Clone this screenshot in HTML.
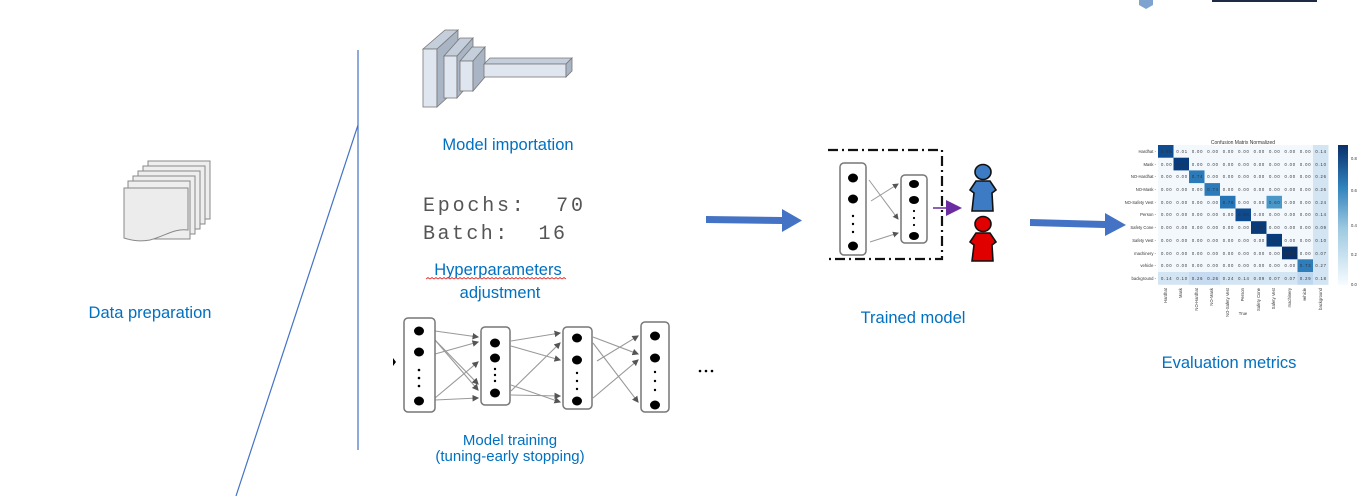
<!DOCTYPE html>
<html><head><meta charset="utf-8"><style>
html,body{margin:0;padding:0;background:#fff;}
svg{display:block;}
.t{font-family:"Liberation Sans",sans-serif;font-size:16.5px;fill:#0070C0;}
.m{font-family:"Liberation Mono",monospace;font-size:20px;fill:#555;}
.c{font-family:"Liberation Sans",sans-serif;font-size:4.2px;fill:#333;}
</style></head><body>
<svg width="1369" height="496" viewBox="0 0 1369 496" xmlns="http://www.w3.org/2000/svg">
<!-- top-right bits -->
<polygon points="1139,0 1153,0 1153,5 1146,9 1139,5" fill="#7ea3cf"/>
<rect x="1212" y="0" width="105" height="2" fill="#1f2a44"/>

<!-- lines -->
<line x1="358" y1="50" x2="358" y2="450" stroke="#4472C4" stroke-width="1.2"/>
<line x1="358" y1="125" x2="236" y2="496" stroke="#4472C4" stroke-width="1.2"/>

<!-- data prep icon -->
<g stroke="#888" stroke-width="1" fill="#eee">
<rect x="148" y="161" width="62" height="58"/>
<rect x="143" y="166" width="62" height="58"/>
<rect x="138" y="171" width="62" height="58"/>
<rect x="133" y="176" width="62" height="58"/>
<rect x="128" y="181" width="62" height="58"/>
<path d="M124,188 L188,188 L188,230 C175,228 165,236 150,240 C140,242 130,240 124,238 Z" fill="#ececec"/>
</g>
<text class="t" x="150" y="318" text-anchor="middle">Data preparation</text>

<!-- model importation icon -->
<g stroke="#777" stroke-width="0.8">
<polygon points="423,49 445,30 458,30 437,49" fill="#c5cedb"/>
<rect x="423" y="49" width="14" height="58" fill="#dfe6f0"/>
<polygon points="437,49 458,30 458,88 437,107" fill="#a9b4c4"/>
<polygon points="444,56 460,38 473,38 457,56" fill="#c5cedb"/>
<rect x="444" y="56" width="13" height="42" fill="#dfe6f0"/>
<polygon points="457,56 473,38 473,80 457,98" fill="#a9b4c4"/>
<polygon points="460,61 472,47 485,47 473,61" fill="#c5cedb"/>
<rect x="460" y="61" width="13" height="30" fill="#dfe6f0"/>
<polygon points="473,61 485,47 485,77 473,91" fill="#a9b4c4"/>
<polygon points="484,64 490,58 572,58 566,64" fill="#c5cedb"/>
<rect x="484" y="64" width="82" height="13" fill="#dfe6f0"/>
<polygon points="566,64 572,58 572,71 566,77" fill="#a9b4c4"/>
</g>
<text class="t" x="508" y="150" text-anchor="middle">Model importation</text>

<!-- hyperparameters -->
<text class="m" x="423" y="211" textLength="160" lengthAdjust="spacing" xml:space="preserve">Epochs:  70</text>
<text class="m" x="423" y="239" textLength="142" lengthAdjust="spacing" xml:space="preserve">Batch:  16</text>
<text class="t" x="498" y="275" text-anchor="middle">Hyperparameters</text>
<path d="M426,279 l2,-1.5 l2,1.5 l2,-1.5 l2,1.5 l2,-1.5 l2,1.5 l2,-1.5 l2,1.5 l2,-1.5 l2,1.5 l2,-1.5 l2,1.5 l2,-1.5 l2,1.5 l2,-1.5 l2,1.5 l2,-1.5 l2,1.5 l2,-1.5 l2,1.5 l2,-1.5 l2,1.5 l2,-1.5 l2,1.5 l2,-1.5 l2,1.5 l2,-1.5 l2,1.5 l2,-1.5 l2,1.5 l2,-1.5 l2,1.5 l2,-1.5 l2,1.5 l2,-1.5 l2,1.5 l2,-1.5 l2,1.5 l2,-1.5 l2,1.5 l2,-1.5 l2,1.5 l2,-1.5 l2,1.5 l2,-1.5 l2,1.5 l2,-1.5 l2,1.5 l2,-1.5 l2,1.5 l2,-1.5 l2,1.5 l2,-1.5 l2,1.5 l2,-1.5 l2,1.5 l2,-1.5 l2,1.5 l2,-1.5 l2,1.5 l2,-1.5 l2,1.5 l2,-1.5 l2,1.5 l2,-1.5 l2,1.5 l2,-1.5 l2,1.5 l2,-1.5 l2,1.5" fill="none" stroke="#e03030" stroke-width="0.8"/>
<text class="t" x="500" y="298" text-anchor="middle">adjustment</text>

<!-- training network -->
<defs><marker id="ah" markerWidth="6" markerHeight="6" refX="5" refY="3" orient="auto"><path d="M0,0 L6,3 L0,6 Z" fill="#555"/></marker>
<marker id="pa" markerWidth="5" markerHeight="5" refX="4" refY="2.5" orient="auto"><path d="M0,0 L5,2.5 L0,5 Z" fill="#6a2ca0"/></marker></defs>
<g stroke="#999" stroke-width="1.1" marker-end="url(#ah)">
<line x1="435" y1="331" x2="478" y2="337"/><line x1="435" y1="340" x2="478" y2="390"/>
<line x1="435" y1="354" x2="478" y2="342"/><line x1="435" y1="398" x2="478" y2="362"/>
<line x1="435" y1="400" x2="478" y2="398"/><line x1="435" y1="340" x2="478" y2="384"/>
<line x1="511" y1="341" x2="560" y2="333"/><line x1="511" y1="346" x2="560" y2="360"/>
<line x1="511" y1="385" x2="560" y2="402"/><line x1="511" y1="391" x2="560" y2="343"/>
<line x1="511" y1="395" x2="560" y2="396"/>
<line x1="593" y1="337" x2="638" y2="354"/><line x1="593" y1="343" x2="638" y2="402"/>
<line x1="597" y1="361" x2="638" y2="336"/><line x1="593" y1="398" x2="638" y2="360"/>
</g>
<g fill="none" stroke="#777" stroke-width="1.5">
<rect x="404" y="318" width="31" height="94" rx="4"/>
<rect x="481" y="327" width="29" height="78" rx="4"/>
<rect x="563" y="327" width="29" height="82" rx="4"/>
<rect x="641" y="322" width="28" height="90" rx="4"/>
</g>
<g fill="#000">
<ellipse cx="419" cy="331" rx="5" ry="4.5"/><ellipse cx="419" cy="352" rx="5" ry="4.5"/><ellipse cx="419" cy="401" rx="5" ry="4.5"/>
<circle cx="419" cy="370" r="1.3"/><circle cx="419" cy="378" r="1.3"/><circle cx="419" cy="386" r="1.3"/>
<ellipse cx="495" cy="343" rx="5" ry="4.5"/><ellipse cx="495" cy="358" rx="5" ry="4.5"/><ellipse cx="495" cy="393" rx="5" ry="4.5"/>
<circle cx="495" cy="369" r="1.2"/><circle cx="495" cy="375" r="1.2"/><circle cx="495" cy="381" r="1.2"/>
<ellipse cx="577" cy="338" rx="5" ry="4.5"/><ellipse cx="577" cy="360" rx="5" ry="4.5"/><ellipse cx="577" cy="401" rx="5" ry="4.5"/>
<circle cx="577" cy="373" r="1.2"/><circle cx="577" cy="381" r="1.2"/><circle cx="577" cy="389" r="1.2"/>
<ellipse cx="655" cy="336" rx="5" ry="4.5"/><ellipse cx="655" cy="358" rx="5" ry="4.5"/><ellipse cx="655" cy="405" rx="5" ry="4.5"/>
<circle cx="655" cy="372" r="1.2"/><circle cx="655" cy="381" r="1.2"/><circle cx="655" cy="390" r="1.2"/>
<polygon points="393,358 396,362 393,366"/>
<circle cx="700" cy="371" r="1.3"/><circle cx="706" cy="371" r="1.3"/><circle cx="712" cy="371" r="1.3"/>
</g>
<text class="t" x="510" y="445" text-anchor="middle" style="font-size:15px">Model training</text>
<text class="t" x="510" y="461" text-anchor="middle" style="font-size:15px">(tuning-early stopping)</text>

<!-- arrows -->
<polygon points="706,216 782,217 782,209 802,220.5 782,232 782,224 706,223" fill="#4472C4"/>
<polygon points="1030,219 1105,221 1105,213 1126,225 1105,236 1105,228 1030,226" fill="#4472C4"/>

<!-- trained model -->
<path d="M828,150 L942,150 L942,259 L826,259" fill="none" stroke="#111" stroke-width="2.2" stroke-dasharray="10,4,2,4"/>
<g stroke="#999" stroke-width="1" marker-end="url(#ah)">
<line x1="869" y1="180" x2="898" y2="219"/><line x1="871" y1="201" x2="898" y2="184"/><line x1="870" y1="242" x2="898" y2="233"/>
</g>
<g fill="none" stroke="#777" stroke-width="1.5">
<rect x="840" y="163" width="26" height="92" rx="4"/>
<rect x="901" y="175" width="26" height="68" rx="4"/>
</g>
<g fill="#000">
<ellipse cx="853" cy="178" rx="5" ry="4.5"/><ellipse cx="853" cy="199" rx="5" ry="4.5"/><ellipse cx="853" cy="246" rx="5" ry="4.5"/>
<circle cx="853" cy="216" r="1.2"/><circle cx="853" cy="224" r="1.2"/><circle cx="853" cy="232" r="1.2"/>
<ellipse cx="914" cy="184" rx="5" ry="4"/><ellipse cx="914" cy="200" rx="5" ry="4"/><ellipse cx="914" cy="236" rx="5" ry="4"/>
<circle cx="914" cy="211" r="1.1"/><circle cx="914" cy="218" r="1.1"/><circle cx="914" cy="225" r="1.1"/>
</g>
<line x1="933" y1="208" x2="952" y2="208" stroke="#6a2ca0" stroke-width="1.5"/>
<polygon points="946,200 962,208 946,216" fill="#6a2ca0"/>
<g stroke="#111" stroke-width="1.6">
<ellipse cx="983" cy="172" rx="8" ry="7.5" fill="#3d7cc4"/>
<path d="M976,181 L990,181 L996,190 L992,193 L993,211 L972,211 L974,193 L970,190 Z" fill="#3d7cc4"/>
<ellipse cx="983" cy="224" rx="8" ry="7.5" fill="#e00000"/>
<path d="M976,233 L990,233 L996,242 L992,245 L993,261 L972,261 L974,245 L970,242 Z" fill="#e00000"/>
</g>
<text class="t" x="913" y="323" text-anchor="middle">Trained model</text>

<!-- confusion matrix -->
<text x="1243" y="144" text-anchor="middle" style="font-family:'Liberation Sans',sans-serif;font-size:5px;fill:#333">Confusion Matrix Normalized</text>
<rect x="1158" y="145" width="170.5" height="139.7" fill="#f3f8fd"/>
<g>
<rect x="1158" y="145" width="15.5" height="12.7" fill="#0e4d92"/>
<rect x="1173.5" y="157.7" width="15.5" height="12.7" fill="#083b7c"/>
<rect x="1189" y="170.4" width="15.5" height="12.7" fill="#2b7bba"/>
<rect x="1204.5" y="183.1" width="15.5" height="12.7" fill="#2b7bba"/>
<rect x="1220" y="195.8" width="15.5" height="12.7" fill="#2575b7"/>
<rect x="1266.5" y="195.8" width="15.5" height="12.7" fill="#4a98c9"/>
<rect x="1235.5" y="208.5" width="15.5" height="12.7" fill="#0d4a8f"/>
<rect x="1251" y="221.2" width="15.5" height="12.7" fill="#083b7c"/>
<rect x="1266.5" y="233.9" width="15.5" height="12.7" fill="#083b7c"/>
<rect x="1282" y="246.6" width="15.5" height="12.7" fill="#08306b"/>
<rect x="1297.5" y="259.3" width="15.5" height="12.7" fill="#2e7ebc"/>
<rect x="1313" y="145" width="15.5" height="139.7" fill="#d3e4f3"/>
<rect x="1158" y="272" width="170.5" height="12.7" fill="#d3e4f3"/>
<rect x="1189" y="272" width="31" height="12.7" fill="#c6dbef"/>
<rect x="1297.5" y="272" width="15.5" height="12.7" fill="#bdd7ee"/>
</g>
<g class="c" text-anchor="end">
<text x="1156" y="153">Hardhat -</text><text x="1156" y="166">Mask -</text><text x="1156" y="178">NO-Hardhat -</text>
<text x="1156" y="191">NO-Mask -</text><text x="1156" y="204">NO-Safety Vest -</text><text x="1156" y="216">Person -</text>
<text x="1156" y="229">Safety Cone -</text><text x="1156" y="242">Safety Vest -</text><text x="1156" y="255">machinery -</text>
<text x="1156" y="267">vehicle -</text><text x="1156" y="280">background -</text>
</g>
<g class="c">
<text x="1161" y="153" textLength="165" lengthAdjust="spacing" xml:space="preserve">0.85  0.01  0.00  0.00  0.00  0.00  0.00  0.00  0.00  0.00  0.14</text>
<text x="1161" y="166" textLength="165" lengthAdjust="spacing" xml:space="preserve">0.00  0.90  0.00  0.00  0.00  0.00  0.00  0.00  0.00  0.00  0.10</text>
<text x="1161" y="178" textLength="165" lengthAdjust="spacing" xml:space="preserve">0.00  0.00  0.74  0.00  0.00  0.00  0.00  0.00  0.00  0.00  0.26</text>
<text x="1161" y="191" textLength="165" lengthAdjust="spacing" xml:space="preserve">0.00  0.00  0.00  0.74  0.00  0.00  0.00  0.00  0.00  0.00  0.26</text>
<text x="1161" y="204" textLength="165" lengthAdjust="spacing" xml:space="preserve">0.00  0.00  0.00  0.00  0.76  0.00  0.00  0.60  0.00  0.00  0.24</text>
<text x="1161" y="216" textLength="165" lengthAdjust="spacing" xml:space="preserve">0.00  0.00  0.00  0.00  0.00  0.86  0.00  0.00  0.00  0.00  0.14</text>
<text x="1161" y="229" textLength="165" lengthAdjust="spacing" xml:space="preserve">0.00  0.00  0.00  0.00  0.00  0.00  0.91  0.00  0.00  0.00  0.09</text>
<text x="1161" y="242" textLength="165" lengthAdjust="spacing" xml:space="preserve">0.00  0.00  0.00  0.00  0.00  0.00  0.00  0.90  0.00  0.00  0.10</text>
<text x="1161" y="255" textLength="165" lengthAdjust="spacing" xml:space="preserve">0.00  0.00  0.00  0.00  0.00  0.00  0.00  0.00  0.93  0.00  0.07</text>
<text x="1161" y="267" textLength="165" lengthAdjust="spacing" xml:space="preserve">0.00  0.00  0.00  0.00  0.00  0.00  0.00  0.00  0.00  0.73  0.27</text>
<text x="1161" y="280" textLength="165" lengthAdjust="spacing" xml:space="preserve">0.14  0.10  0.26  0.26  0.24  0.14  0.09  0.07  0.07  0.29  0.18</text>
</g>
<g class="c">
<text transform="translate(1167,288) rotate(-90)" text-anchor="end">Hardhat</text>
<text transform="translate(1182,288) rotate(-90)" text-anchor="end">Mask</text>
<text transform="translate(1198,288) rotate(-90)" text-anchor="end">NO-Hardhat</text>
<text transform="translate(1213,288) rotate(-90)" text-anchor="end">NO-Mask</text>
<text transform="translate(1229,288) rotate(-90)" text-anchor="end">NO-Safety Vest</text>
<text transform="translate(1244,288) rotate(-90)" text-anchor="end">Person</text>
<text transform="translate(1260,288) rotate(-90)" text-anchor="end">Safety Cone</text>
<text transform="translate(1275,288) rotate(-90)" text-anchor="end">Safety Vest</text>
<text transform="translate(1291,288) rotate(-90)" text-anchor="end">machinery</text>
<text transform="translate(1306,288) rotate(-90)" text-anchor="end">vehicle</text>
<text transform="translate(1322,288) rotate(-90)" text-anchor="end">background</text>
<text x="1243" y="315" text-anchor="middle">True</text>
</g>
<defs><linearGradient id="cb" x1="0" y1="1" x2="0" y2="0"><stop offset="0" stop-color="#f7fbff"/><stop offset="0.4" stop-color="#9ecae1"/><stop offset="0.7" stop-color="#3182bd"/><stop offset="1" stop-color="#08306b"/></linearGradient></defs>
<rect x="1338" y="145" width="10" height="140" fill="url(#cb)"/>
<g class="c"><text x="1351" y="160">0.8</text><text x="1351" y="192">0.6</text><text x="1351" y="227">0.4</text><text x="1351" y="256">0.2</text><text x="1351" y="286">0.0</text></g>
<text class="t" x="1229" y="368" text-anchor="middle">Evaluation metrics</text>
</svg>
</body></html>
